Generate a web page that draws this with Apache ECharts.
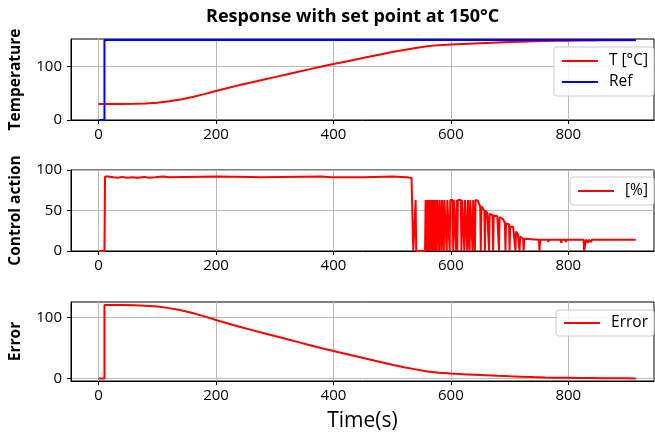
<!DOCTYPE html>
<html>
<head>
<meta charset="utf-8">
<script src="https://cdn.jsdelivr.net/npm/echarts@6/dist/echarts.min.js"></script>
<style>
  html, body { margin: 0; padding: 0; background: #fff; }
  #chart { width: 655px; height: 439px; }
</style>
</head>
<body>
<div id="chart"></div>
<script>
// x ticks shared by the three panels
const xTicks = [0, 200, 400, 600, 800];

// temperature (T)
const tempTime = [0, 20, 40, 60, 80, 100, 120, 140, 160, 180, 200, 220, 240, 260, 280, 300, 320, 340, 360, 380,
  400, 420, 440, 460, 480, 500, 520, 540, 560, 580, 600, 620, 640, 660, 680, 700, 720, 740, 760, 780,
  800, 820, 840, 860, 880, 900, 915];
const tempValues = [30, 30, 30, 30.3, 31, 32.5, 35, 38.5, 43, 48.5, 54.5, 60, 65.5, 70.5, 75.5, 80.5, 85.5, 90.5, 95.5, 100.5,
  105, 109.5, 114, 118.5, 123, 127.5, 131.5, 135, 138.5, 140.5, 141.8, 142.8, 143.7, 144.6, 145.5, 146.3, 147, 147.6, 148.1, 148.5,
  148.8, 149.1, 149.3, 149.5, 149.6, 149.7, 149.8];

// set point
const refTime = [0, 10, 10, 915];
const refValues = [0, 0, 150, 150];

// error
const errTime = [0, 10, 10, 20, 40, 60, 80, 100, 120, 140, 160, 180, 200, 220, 240, 260, 280, 300, 320, 340, 360, 380,
  400, 420, 440, 460, 480, 500, 520, 540, 560, 580, 600, 620, 640, 660, 680, 700, 720, 740, 760, 780,
  800, 820, 840, 860, 880, 900, 915];
const errValues = [0, 0, 120, 120, 120, 119.7, 119, 117.5, 115, 111.5, 107, 101.5, 95.5, 90, 84.5, 79.5, 74.5, 69.5, 64.5, 59.5, 54.5, 49.5,
  45, 40.5, 36, 31.5, 27, 22.5, 18.5, 15, 11.5, 9.5, 8.2, 7.2, 6.3, 5.4, 4.5, 3.7, 3, 2.4, 1.9, 1.5,
  1.2, 0.9, 0.7, 0.5, 0.4, 0.3, 0.2];

// control action [%] as [time, value]
const ctrlPoints = [
  [0, 0], [10, 0], [11, 92], [16, 92], [17, 90.5], [18, 92], [25, 91], [26, 92], [33, 90.5], [34, 92], [40, 91.5],
  [48, 90.5], [49, 92], [58, 91], [59, 92], [66, 90.5], [67, 92], [78, 91.5], [85, 90.5], [86, 92], [96, 91], [97, 92],
  [110, 92], [120, 91], [121, 92], [200, 92], [260, 91.5], [275, 91], [276, 92], [380, 92], [395, 91], [396, 92],
  [452, 91], [453, 92], [500, 92], [515, 91.5], [525, 91], [533, 90], [535, 89.5], [536, 0], [539, 0], [540, 63], [541, 0],
  [556, 0], [557, 63], [558, 0], [559, 63], [560, 0], [561, 63], [562, 0], [563, 63], [564, 63], [565, 0], [566, 63],
  [567, 0], [568, 63], [569, 63], [570, 0], [571, 63], [572, 63], [573, 0], [574, 63], [575, 63], [576, 0], [577, 63],
  [579, 63], [580, 0], [581, 63], [583, 63], [584, 0], [585, 63], [587, 63], [588, 0], [589, 63], [592, 63], [593, 0],
  [594, 63], [597, 63], [598, 0], [599, 63], [603, 63], [604, 0], [605, 63], [608, 63], [609, 0], [610, 63], [611, 0],
  [612, 63], [617, 63], [618, 0], [619, 63], [622, 63], [623, 0], [624, 63], [627, 63], [628, 0], [629, 63], [631, 63],
  [632, 0], [633, 63], [636, 63], [637, 0], [638, 63], [640, 63], [641, 0], [642, 63], [645, 63],
  [646, 62], [648, 58], [650, 55], [651, 0], [652, 55], [655, 53], [657, 50], [658, 0], [659, 50], [662, 47], [664, 45],
  [665, 0], [666, 46], [669, 45], [671, 44], [672, 0], [673, 44], [676, 45], [679, 43], [681, 44], [682, 0], [683, 42],
  [686, 41], [689, 39], [692, 35], [693, 0], [694, 34], [697, 36], [699, 33], [700, 0], [701, 30], [703, 28], [706, 30],
  [709, 29], [710, 0], [711, 24], [714, 21], [716, 20], [717, 0], [718, 18], [721, 16], [723, 15], [724, 0], [725, 15],
  [727, 14], [750, 14], [751, 0], [752, 14], [765, 14], [766, 11], [767, 14], [787, 14], [788, 10], [789, 14],
  [795, 14], [796, 11], [797, 14], [826, 14], [827, 0], [829, 0], [830, 14], [833, 14], [834, 10], [835, 14],
  [838, 14], [839, 11], [840, 14], [845, 14], [846, 12], [847, 14], [850, 14], [851, 12], [852, 14],
  [898, 14], [899, 12], [900, 14], [915, 14]
];

const FONT = 'Open Sans';

function zip(xs, ys) {
  return xs.map((x, i) => [x, ys[i]]);
}

function xAxisFor(idx, withName) {
  return {
    type: 'value',
    gridIndex: idx,
    min: -47,
    max: 946,
    name: withName ? 'Time(s)' : '',
    nameLocation: 'middle',
    nameGap: 30,
    nameTextStyle: { fontFamily: FONT, fontSize: 21, color: '#000' },
    axisLine: { show: true, onZero: false, lineStyle: { color: '#000', width: 1 } },
    axisTick: { show: true, length: 4, customValues: xTicks, lineStyle: { color: '#000' } },
    axisLabel: { customValues: xTicks, margin: 7, fontFamily: FONT, fontSize: 15, color: '#000' },
    splitLine: { show: true, lineStyle: { color: '#b8b8b8', width: 1 } }
  };
}

function yAxisFor(idx, name, min, max, ticks) {
  return {
    type: 'value',
    gridIndex: idx,
    min: min,
    max: max,
    name: name,
    nameLocation: 'middle',
    nameRotate: 90,
    nameGap: 47,
    nameTextStyle: { fontFamily: FONT, fontSize: 15.5, fontWeight: 'bold', color: '#000' },
    axisLine: { show: true, onZero: false, lineStyle: { color: '#000', width: 1 } },
    axisTick: { show: true, length: 4, customValues: ticks, lineStyle: { color: '#000' } },
    axisLabel: { customValues: ticks, margin: 9, fontFamily: FONT, fontSize: 15, color: '#000' },
    splitLine: { show: true, lineStyle: { color: '#b8b8b8', width: 1 } }
  };
}

function legendFor(top, names, vpad) {
  return {
    orient: 'vertical',
    right: 1,
    top: top,
    data: names,
    icon: 'rect',
    itemWidth: 36,
    itemHeight: 2,
    itemGap: 5,
    padding: [vpad, 6, vpad, 8],
    backgroundColor: 'rgba(255,255,255,0.85)',
    borderColor: '#cccccc',
    borderWidth: 1,
    borderRadius: 3,
    textStyle: { fontFamily: FONT, fontSize: 15.5, color: '#000', padding: [0, 0, 0, 6] }
  };
}

const chart = echarts.init(document.getElementById('chart'));

const option = {
  animation: false,
  backgroundColor: '#fff',
  title: {
    text: 'Response with set point at 150°C',
    left: 201,
    top: 3,
    textStyle: { fontFamily: FONT, fontSize: 18, fontWeight: 'bold', color: '#000' }
  },
  grid: [
    { left: 71, right: 1, top: 39, height: 81, show: true, borderColor: '#000', borderWidth: 1, backgroundColor: 'transparent' },
    { left: 71, right: 1, top: 170, height: 81, show: true, borderColor: '#000', borderWidth: 1, backgroundColor: 'transparent' },
    { left: 71, right: 1, top: 302, height: 79, show: true, borderColor: '#000', borderWidth: 1, backgroundColor: 'transparent' }
  ],
  xAxis: [xAxisFor(0, false), xAxisFor(1, false), xAxisFor(2, true)],
  yAxis: [
    yAxisFor(0, 'Temperature', 0, 152, [0, 100]),
    yAxisFor(1, 'Control action', 0, 100, [0, 50, 100]),
    yAxisFor(2, 'Error', -4, 125, [0, 100])
  ],
  legend: [
    legendFor(47, ['T [°C]', 'Ref'], 6),
    legendFor(177, ['[%]'], 6),
    legendFor(310, ['Error'], 5)
  ],
  series: [
    {
      name: 'T [°C]', type: 'line', xAxisIndex: 0, yAxisIndex: 0,
      data: zip(tempTime, tempValues), showSymbol: false, symbol: 'none',
      lineStyle: { color: '#ff0000', width: 2 }, itemStyle: { color: '#ff0000' }
    },
    {
      name: 'Ref', type: 'line', xAxisIndex: 0, yAxisIndex: 0,
      data: zip(refTime, refValues), showSymbol: false, symbol: 'none',
      lineStyle: { color: '#0000ff', width: 2 }, itemStyle: { color: '#0000ff' }
    },
    {
      name: '[%]', type: 'line', xAxisIndex: 1, yAxisIndex: 1,
      data: ctrlPoints, showSymbol: false, symbol: 'none',
      lineStyle: { color: '#ff0000', width: 2 }, itemStyle: { color: '#ff0000' }
    },
    {
      name: 'Error', type: 'line', xAxisIndex: 2, yAxisIndex: 2,
      data: zip(errTime, errValues), showSymbol: false, symbol: 'none',
      lineStyle: { color: '#ff0000', width: 2 }, itemStyle: { color: '#ff0000' }
    }
  ]
};

chart.setOption(option);
</script>
</body>
</html>
